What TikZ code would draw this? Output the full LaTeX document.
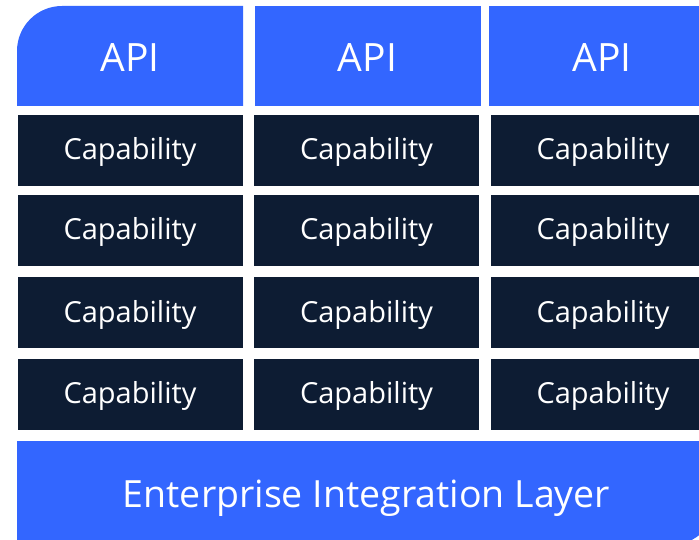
\documentclass[tikz,border=0pt]{standalone}
\usepackage{fontspec}
\setmainfont{Open Sans}
\definecolor{apiblue}{HTML}{3366FF}
\definecolor{capnavy}{HTML}{0D1C33}
\tikzset{
  apibox/.style={fill=apiblue, text=white, minimum width=226pt, minimum height=100pt, inner sep=0pt,
    text height=33pt, text depth=1pt, font=\fontsize{39}{42}\selectfont},
  capbox/.style={fill=capnavy, text=white, minimum width=225pt, minimum height=71pt, inner sep=0pt,
    text height=20pt, text depth=1pt, font=\fontsize{29}{32}\selectfont},
  layerbox/.style={text=white, inner sep=0pt, text height=29pt, text depth=1pt, font=\fontsize{37.5}{40}\selectfont}
}
\begin{document}
\begin{tikzpicture}[x=1pt,y=1pt]
\useasboundingbox (0,0) rectangle (699,539);
% API row, first one with the round corner
\fill[apiblue] (17,433) -- (17,488) arc[start angle=180, end angle=90, radius=45] -- (243,533) -- (243,433) -- cycle;
\node[apibox, fill=none] (api1) at (130,483) {API};
\foreach \c/\x in {2/367.5,3/602}
\node[apibox] (api\c) at (\x,483) {API};
% capabilities
\foreach \c/\x in {1/130,2/366.5,3/603}
\foreach \r/\y in {1/388.5,2/308.5,3/226.5,4/145}
\node[capbox] (cap\r\c) at (\x,\y) {Capability};
% integration layer
\fill[apiblue] (17,-6) -- (17,98) -- (716,98) -- (716,39) arc[start angle=0, end angle=-90, radius=45] -- cycle;
\node[layerbox] (eil) at (366.5,46) {Enterprise Integration Layer};
\end{tikzpicture}
\end{document}
